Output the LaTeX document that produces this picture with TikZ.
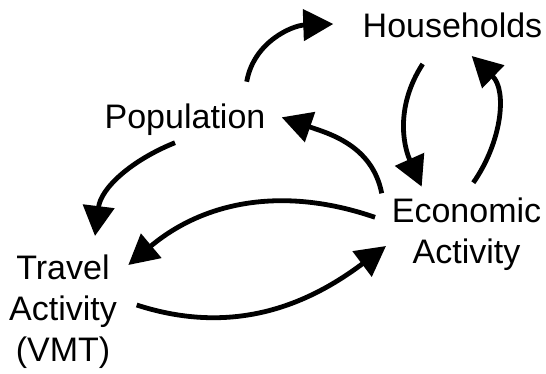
\documentclass[tikz,border=0pt]{standalone}
\usepackage{fontspec}
\setmainfont{Liberation Sans}
\usetikzlibrary{arrows.meta}
\begin{document}
\begin{tikzpicture}[x=1pt,y=1pt,
  lbl/.style={font=\fontsize{34}{41}\selectfont, align=center, inner sep=0pt},
  link/.style={line width=4.8pt, -{Triangle[length=30pt,width=31pt]}}]
\useasboundingbox (0,0) rectangle (546,373);
\node[lbl, anchor=base] (hh) at (452.5,335.7) {Households};
\node[lbl, anchor=base] (pop) at (185,244.7) {Population};
\node[lbl, anchor=base] (eco) at (466.5,109.7) {Economic\\Activity};
\node[lbl, anchor=base] (tra) at (63,11.3) {Travel\\Activity\\(VMT)};
% connector ends
\coordinate (a1s) at (246.7,291.3); \coordinate (a1e) at (333.3,349);
\coordinate (a2s) at (422.7,309);   \coordinate (a2e) at (421.7,186.3);
\coordinate (a3s) at (473.3,190.3); \coordinate (a3e) at (471.7,317);
\coordinate (a4s) at (381.7,179.7); \coordinate (a4e) at (281.7,255.7);
\coordinate (a5s) at (175,230.3);   \coordinate (a5e) at (95,137);
\coordinate (a6s) at (375,155.7);   \coordinate (a6e) at (128.3,108);
\coordinate (a7s) at (136.7,68);    \coordinate (a7e) at (386,127);
\draw[link] (a1s) to[out=80,in=182] (a1e);
\draw[link] (a2s) to[out=237,in=114] (a2e);
\draw[link] (a3s) to[out=55,in=316] (a3e);
\draw[link] (a4s) to[out=101,in=341] (a4e);
\draw[link] (a5s) to[out=202,in=83] (a5e);
\draw[link] (a6s) to[out=161,in=40] (a6e);
\draw[link] (a7s) to[out=-18,in=217] (a7e);
\end{tikzpicture}
\end{document}
